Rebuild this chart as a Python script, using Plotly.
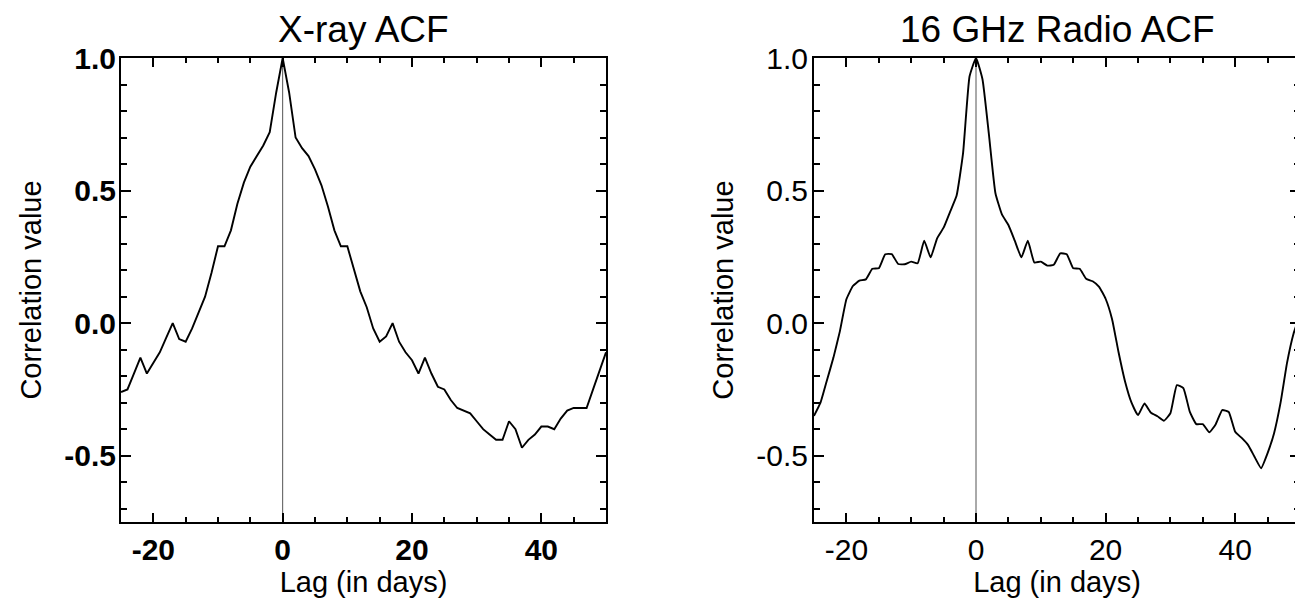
import plotly.graph_objects as go

# ---------------- data ----------------
lags = list(range(-25, 51))

xray_acf = [
    -0.26, -0.25, -0.19, -0.13, -0.19, -0.15, -0.11, -0.055, 0.00, -0.06,
    -0.07, -0.02, 0.04, 0.10, 0.19, 0.29, 0.29, 0.35, 0.45, 0.53,
    0.59, 0.63, 0.67, 0.72, 0.87, 1.00, 0.87, 0.70, 0.66, 0.63,
    0.58, 0.52, 0.44, 0.35, 0.29, 0.29, 0.20, 0.12, 0.06, -0.02,
    -0.07, -0.05, 0.00, -0.07, -0.11, -0.14, -0.19, -0.13, -0.19, -0.24,
    -0.25, -0.29, -0.32, -0.33, -0.34, -0.37, -0.40, -0.42, -0.44, -0.44,
    -0.37, -0.40, -0.47, -0.44, -0.42, -0.39, -0.39, -0.40, -0.36, -0.33,
    -0.32, -0.32, -0.32, -0.25, -0.18, -0.11,
]

radio_acf = [
    -0.35, -0.30, -0.215, -0.13, -0.03, 0.09, 0.14, 0.16, 0.165, 0.205,
    0.207, 0.26, 0.26, 0.223, 0.222, 0.232, 0.226, 0.311, 0.248, 0.32,
    0.36, 0.42, 0.48, 0.64, 0.93, 1.00, 0.92, 0.71, 0.49, 0.41,
    0.37, 0.31, 0.248, 0.311, 0.229, 0.232, 0.217, 0.22, 0.263, 0.26,
    0.207, 0.205, 0.167, 0.158, 0.137, 0.092, 0.015, -0.11, -0.22, -0.30,
    -0.347, -0.303, -0.338, -0.351, -0.368, -0.34, -0.234, -0.245, -0.335, -0.381,
    -0.381, -0.412, -0.381, -0.328, -0.335, -0.41, -0.433, -0.46, -0.505, -0.547,
    -0.49, -0.415, -0.30, -0.15, -0.04, 0.03,
]

x_tick_vals = [-20, 0, 20, 40]
x_tick_labels = ["-20", "0", "20", "40"]
y_tick_vals = [-0.5, 0.0, 0.5, 1.0]
y_tick_labels = ["-0.5", "0.0", "0.5", "1.0"]

titles = ["X-ray ACF", "16 GHz Radio ACF"]
x_title = "Lag (in days)"
y_title = "Correlation value"

# ---------------- layout geometry ----------------
W, H = 1302, 598
FONT = "Liberation Sans, Arial, Helvetica, sans-serif"
left_dom = [121 / W, 606 / W]
right_dom = [814 / W, 1300 / W]

fig = go.Figure()
fig.add_trace(go.Scatter(x=lags, y=xray_acf, mode="lines",
                         line=dict(color="black", width=1.9),
                         xaxis="x", yaxis="y", showlegend=False))
fig.add_trace(go.Scatter(x=lags, y=radio_acf, mode="lines",
                         line=dict(color="black", width=1.9, shape="spline", smoothing=0.4),
                         xaxis="x2", yaxis="y2", showlegend=False))


def xaxis(dom, anchor, bold):
    return dict(
        domain=dom, anchor=anchor, range=[-25, 50],
        showgrid=False, zeroline=False,
        showline=True, linecolor="black", linewidth=2, mirror="ticks",
        ticks="inside", ticklen=9, tickwidth=2, tickcolor="black",
        tickmode="array", tickvals=x_tick_vals, ticktext=x_tick_labels,
        minor=dict(tickmode="linear", tick0=0, dtick=5, ticks="inside",
                   ticklen=5, tickwidth=1.5, tickcolor="black"),
        tickfont=dict(family=FONT, size=30, color="black",
                      weight="bold" if bold else "normal"),
        ticklabelstandoff=0,
        title=dict(text=x_title, font=dict(family=FONT, size=29, color="black"),
                   standoff=8),
    )


def yaxis(anchor, bold, lab_off):
    return dict(
        domain=[0, 1], anchor=anchor, range=[-0.75, 1.0],
        showgrid=False, zeroline=False,
        showline=True, linecolor="black", linewidth=2, mirror="ticks",
        ticks="inside", ticklen=10, tickwidth=2, tickcolor="black",
        tickmode="array", tickvals=y_tick_vals, ticktext=y_tick_labels,
        minor=dict(tickmode="linear", tick0=0, dtick=0.1, ticks="inside",
                   ticklen=6, tickwidth=1.5, tickcolor="black"),
        tickfont=dict(family=FONT, size=30, color="black",
                      weight="bold" if bold else "normal"),
        ticklabelstandoff=lab_off,
        title=dict(text=y_title, font=dict(family=FONT, size=29, color="black"),
                   standoff=14),
    )


fig.update_layout(
    width=W, height=H,
    margin=dict(l=0, r=0, t=58, b=76, pad=0),
    paper_bgcolor="white", plot_bgcolor="white",
    xaxis=xaxis(left_dom, "y", True),
    yaxis=yaxis("x", True, -3),
    xaxis2=xaxis(right_dom, "y2", False),
    yaxis2=yaxis("x2", False, -2),
    showlegend=False,
)

# zero-lag reference lines
for xr, yr in (("x", "y domain"), ("x2", "y2 domain")):
    fig.add_shape(type="line", xref=xr, yref=yr, x0=0, x1=0, y0=0, y1=1,
                  line=dict(color="#555555", width=1), layer="below")

# panel titles
for dom, t in ((left_dom, titles[0]), (right_dom, titles[1])):
    fig.add_annotation(text=t, xref="paper", yref="paper",
                       x=(dom[0] + dom[1]) / 2, y=1.012,
                       xanchor="center", yanchor="bottom", showarrow=False,
                       font=dict(family=FONT, size=37, color="black"))

fig.write_html(
    "out.html",
    config={"displayModeBar": False},
    post_script="document.documentElement.style.overflow='hidden';document.body.style.overflow='hidden';",
)
